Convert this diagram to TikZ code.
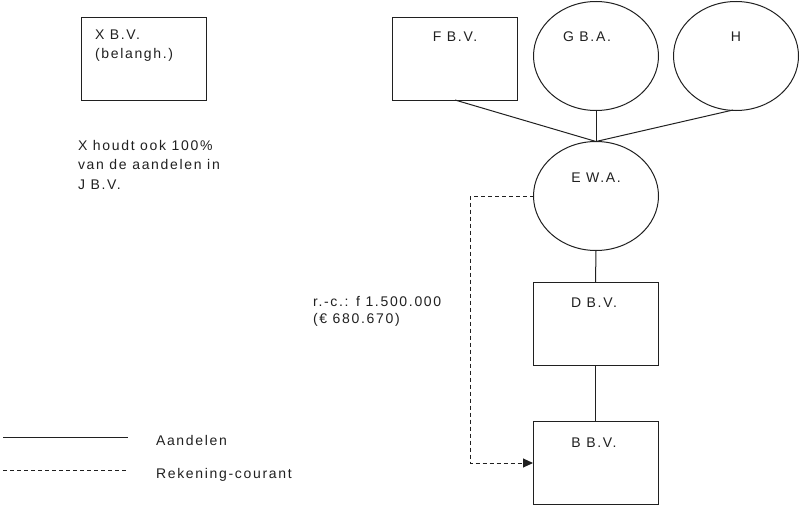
\documentclass[tikz,border=0pt]{standalone}
\usepackage{fontspec}
\setmainfont{Liberation Sans}[LetterSpace=12]
\usetikzlibrary{shapes.geometric,arrows.meta}
\definecolor{ink}{HTML}{202020}
\tikzset{
  x=1pt,y=-1pt,
  every node/.style={inner sep=0pt,outer sep=0pt,text=ink},
  txt/.style={font=\fontsize{14}{19.5}\selectfont,align=left},
  boxshape/.style={draw=ink,line width=1pt,rectangle,minimum width=125pt,minimum height=83pt},
  ovalshape/.style={draw=ink,line width=1pt,ellipse,minimum width=125pt,minimum height=109pt},
  share/.style={draw=ink,line width=1pt},
  rc/.style={draw=ink,line width=1pt,dash pattern=on 4pt off 3pt},
}
\begin{document}
\begin{tikzpicture}
\useasboundingbox (0,0) rectangle (800,506);
% shapes
\node[boxshape] (X) at (143.5,58.5) {};
\node[boxshape] (F) at (455,58.5) {};
\node[ovalshape] (G) at (596,56) {};
\node[ovalshape] (H) at (736,56) {};
\node[ovalshape] (E) at (596,196) {};
\node[boxshape] (D) at (595.5,323.5) {};
\node[boxshape] (B) at (595.5,463) {};
% labels
\node[txt,anchor=base west] (Xt) at (95,58.5) {X B.V.\\(belangh.)};
\node[txt,anchor=base] (Ft) at (455,41) {F B.V.};
\node[txt,anchor=base] (Gt) at (587,41) {G B.A.};
\node[txt,anchor=base] (Ht) at (736,41) {H};
\node[txt,anchor=base] (Et) at (596,182) {E W.A.};
\node[txt,anchor=base] (Dt) at (594,307) {D B.V.};
\node[txt,anchor=base] (Bt) at (594,447) {B B.V.};
\node[txt,anchor=base west] (note) at (78,189) {X houdt ook 100\%\\van de aandelen in\\J B.V.};
\node[txt,anchor=base west,font=\fontsize{14}{17}\selectfont] (rct) at (313,323) {r.-c.: f 1.500.000\\(€ 680.670)};
% connectors
\draw[share] (F.south) -- (E.north);
\draw[share] (G.south) -- (E.north);
\draw[share] (733,110) coordinate (Hs) -- (E.north);
\draw[share] (E.south) -- (D.north);
\draw[share] (D.south) -- (B.north);
\coordinate (rcturn) at (470,196);
\draw[rc,-{Triangle[length=10pt,width=9pt]}] (E.west) -- (rcturn) |- (B.west);
% legend
\coordinate (l1a) at (3,437); \coordinate (l1b) at (128,437);
\coordinate (l2a) at (3,470); \coordinate (l2b) at (128,470);
\draw[share] (l1a) -- (l1b);
\draw[rc] (l2a) -- (l2b);
\node[txt,anchor=base west] (la) at (156,445) {Aandelen};
\node[txt,anchor=base west] (lr) at (156,478) {Rekening-courant};
\end{tikzpicture}
\end{document}
